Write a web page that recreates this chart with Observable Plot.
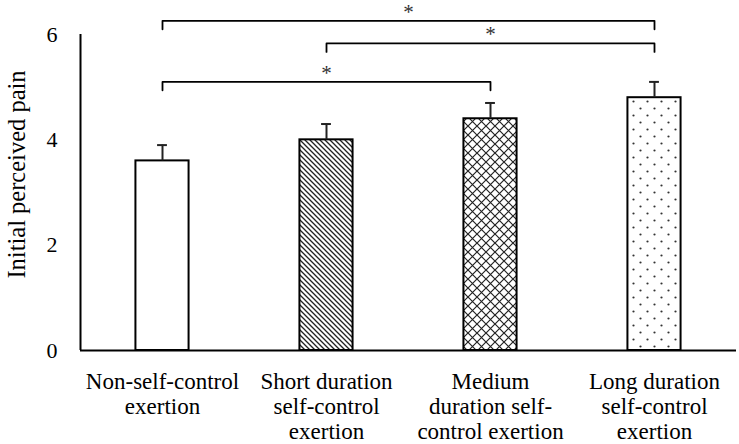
<!DOCTYPE html>
<html>
<head>
<meta charset="utf-8">
<script src="https://cdn.jsdelivr.net/npm/d3@7"></script>
<script src="https://cdn.jsdelivr.net/npm/@observablehq/plot@0.6"></script>
<style>
  html, body { margin: 0; padding: 0; background: #fff; }
  #chart svg { font-family: "Liberation Serif", "Times New Roman", serif !important; font-size: 22px !important; color: #000; background: #fff; }
</style>
</head>
<body>
<div id="chart"></div>
<script>
// ---- data ----
const categories = [
  "Non-self-control\nexertion",
  "Short duration\nself-control\nexertion",
  "Medium\nduration self-\ncontrol exertion",
  "Long duration\nself-control\nexertion"
];
const means = [3.6, 4.0, 4.4, 4.8];
const errors = [0.3, 0.3, 0.3, 0.3];
const yTicks = [0, 2, 4, 6];
const yLabel = "Initial perceived pain";
// significance comparisons: [from index, to index, bracket level]
const compFrom = [0, 1, 0];
const compTo = [3, 3, 2];
const compLevel = [6.26, 5.83, 5.1];
const compMark = ["*", "*", "*"];

// ---- derived tables ----
const rows = categories.map((c, i) => ({i, mean: means[i], err: errors[i]}));
const fills = ["#fff", "url(#hatch)", "url(#cross)", "url(#dots)"];
const drop = 0.16;
const half = 0.162;
const cap = 0.03;
const bracketPts = [];
compFrom.forEach((f, k) => {
  const t = compTo[k], l = compLevel[k];
  bracketPts.push({k, x: f, y: l - drop}, {k, x: f, y: l}, {k, x: t, y: l}, {k, x: t, y: l - drop});
});
const stars = compFrom.map((f, k) => ({x: (f + compTo[k]) / 2, y: compLevel[k], s: compMark[k]}));

const chart = Plot.plot({
  width: 739,
  height: 444,
  marginLeft: 80,
  marginRight: 3,
  marginTop: 34,
  marginBottom: 94,
  x: {type: "linear", domain: [-0.5, 3.5], axis: null},
  y: {domain: [0, 6], axis: null},
  color: {type: "identity"},
  marks: [
    Plot.rectY(rows, {x1: d => d.i - half, x2: d => d.i + half, y1: 0, y2: "mean",
      fill: d => fills[d.i], stroke: "#000", strokeWidth: 2}),
    Plot.ruleX(rows, {x: "i", y1: "mean", y2: d => d.mean + d.err, stroke: "#222", strokeWidth: 2}),
    Plot.ruleY(rows, {y: d => d.mean + d.err, x1: d => d.i - cap, x2: d => d.i + cap, stroke: "#222", strokeWidth: 2}),
    Plot.ruleY([0], {stroke: "#000", strokeWidth: 2}),
    Plot.ruleX([-0.5], {y1: 0, y2: 6, stroke: "#000", strokeWidth: 2}),
    Plot.axisY({ticks: yTicks, tickFormat: d3.format("d"), tickSize: 0, tickPadding: 23, label: null}),
    Plot.axisX({ticks: [0, 1, 2, 3], tickFormat: i => categories[i], tickSize: 0, tickPadding: 21, lineHeight: 1.087, fontSize: 23, label: null}),
    Plot.text([yLabel], {frameAnchor: "left", textAnchor: "middle", rotate: -90, dx: -63, dy: -18, fontSize: 24.5}),
    Plot.line(bracketPts, {x: "x", y: "y", z: "k", stroke: "#000", strokeWidth: 1.8, curve: "linear"}),
    Plot.text(stars, {x: "x", y: "y", text: "s", dy: -9, fontSize: 21, fill: "#333"})
  ]
});

const ns = "http://www.w3.org/2000/svg";
const defs = document.createElementNS(ns, "defs");
defs.innerHTML = `
  <pattern id="hatch" patternUnits="userSpaceOnUse" width="5" height="5">
    <rect width="5" height="5" fill="#fff"/>
    <path d="M-1,-1 L6,6 M-1,4 L1,6 M4,-1 L6,1" stroke="#222" stroke-width="1.3"/>
  </pattern>
  <pattern id="cross" patternUnits="userSpaceOnUse" width="9" height="9">
    <rect width="9" height="9" fill="#fff"/>
    <path d="M0,0 L9,9 M9,0 L0,9" stroke="#222" stroke-width="1.2"/>
  </pattern>
  <pattern id="dots" patternUnits="userSpaceOnUse" width="14" height="14">
    <rect width="14" height="14" fill="#fff"/>
    <circle cx="3.5" cy="3.5" r="1.1" fill="#333"/>
    <circle cx="10.5" cy="10.5" r="1.1" fill="#333"/>
  </pattern>`;
chart.insertBefore(defs, chart.firstChild);
document.getElementById("chart").appendChild(chart);
</script>
</body>
</html>
